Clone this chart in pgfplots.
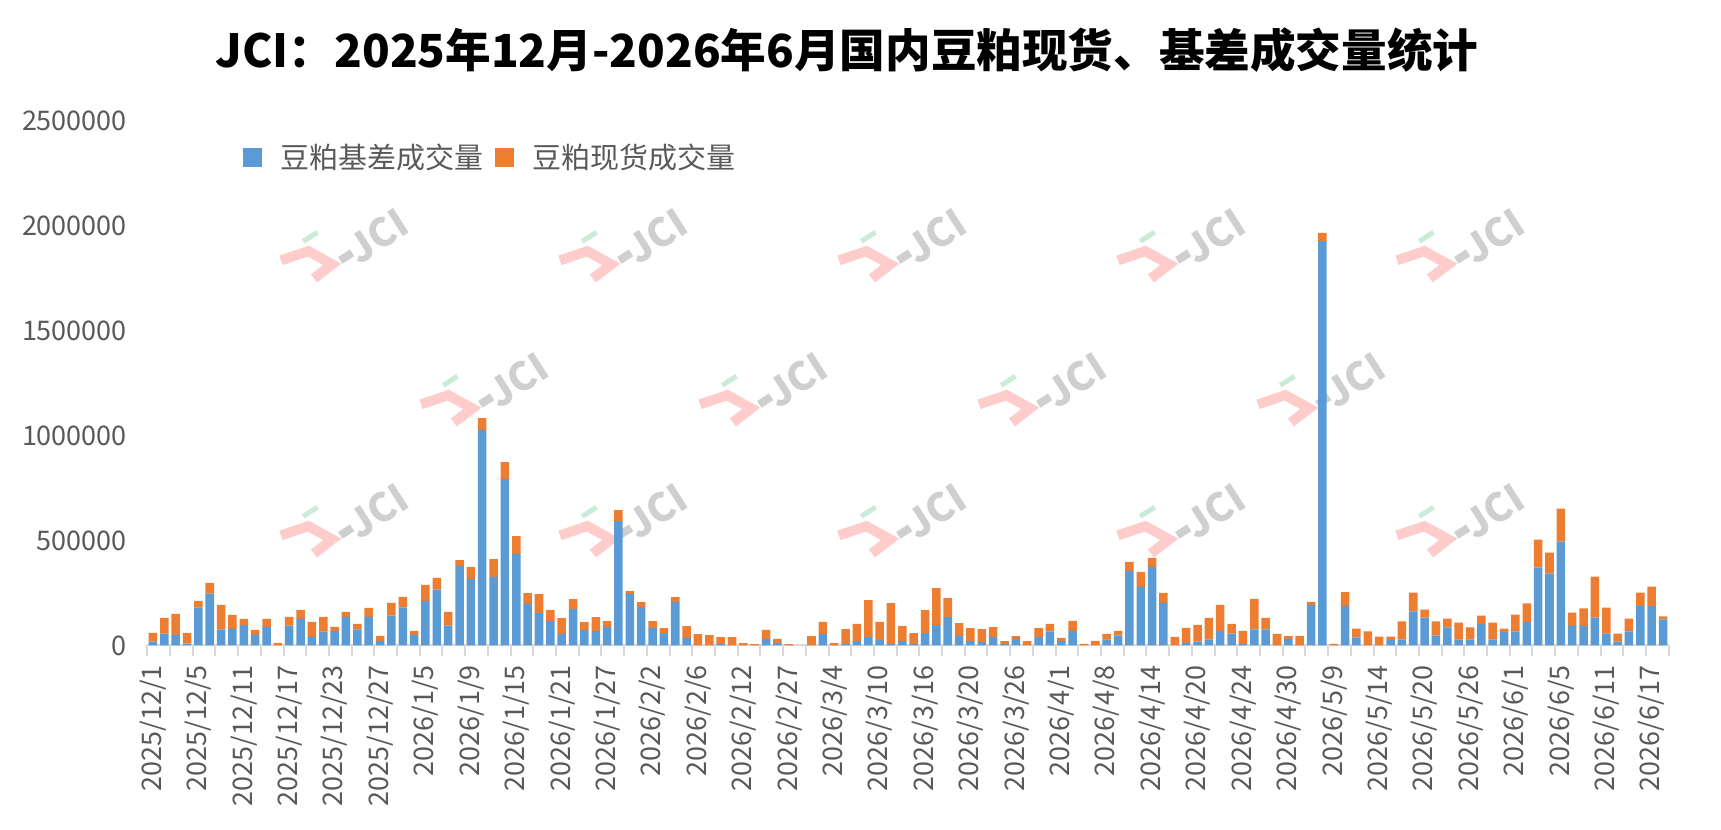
\documentclass[border=0pt]{standalone}
\usepackage{fontspec}
\setmainfont{Noto Sans CJK SC}
\usepackage{pgfplots}
\usepackage{pgfplotstable}
\pgfplotsset{compat=1.18}
\definecolor{sblue}{HTML}{5B9BD5}
\definecolor{sorange}{HTML}{ED7D31}
\definecolor{txtgray}{HTML}{595959}
\definecolor{axgray}{HTML}{D9D9D9}
\definecolor{wmpink}{HTML}{FFCCCC}
\definecolor{wmgreen}{HTML}{C9EBD8}
\definecolor{wmgray}{HTML}{CFCFCF}
\pgfplotsset{sqleg/.style={legend image code/.code={\fill[##1] (0pt,-4.75pt) rectangle (9.5pt,4.75pt);}}}
\newcommand\wm[2]{%
 \begin{scope}[shift={({#1*0.5pt},{(830-#2)*0.5pt})}, rotate=32.6, x=0.5pt, y=0.5pt]
  \draw[wmpink, line width=5pt, line join=miter] (-89,28) -- (-61,21) -- (-48,-3) -- (-71,-5);
  \draw[wmgreen, line width=2.5pt] (-60,32) -- (-43,32);
  \draw[wmgray, line width=4pt] (-39,-4) -- (-25,-4);
  \node[wmgray, font=\bfseries\fontsize{19.5}{20}\selectfont, inner sep=0pt, transform shape] at (6,-4) {JCI};
 \end{scope}}
\pgfplotstableread{
idx B O
0 19000 41300
1 57000 74700
2 50800 100000
3 9500 50800
4 181000 31700
5 247600 50800
6 76200 117400
7 79400 66600
8 98400 28600
9 50800 23800
10 88900 38100
11 0 12700
12 95200 41300
13 127000 42800
14 41300 71400
15 66700 69800
16 69800 19100
17 136500 23800
18 76200 27000
19 136500 42800
20 22200 23800
21 142800 60300
22 181000 50700
23 50800 19000
24 212700 76100
25 266600 55600
26 95200 65100
27 379300 27000
28 315800 57200
29 1026800 55500
30 325300 85700
31 791900 81000
32 436400 84100
33 198400 50800
34 153900 90500
35 115900 52300
36 55500 74600
37 173000 47600
38 74600 36500
39 68200 66700
40 87300 28600
41 592000 52300
42 246000 12700
43 182500 23800
44 84100 31800
45 58700 23800
46 207900 22200
47 36500 55500
48 0 54000
49 0 49200
50 8000 31700
51 0 39700
52 0 11100
53 0 6300
54 30200 44400
55 11100 20600
56 0 6300
57 0 0
58 0 44400
59 55500 57200
60 0 11100
61 8000 69800
62 20600 82600
63 39700 176100
64 27000 85700
65 8000 193500
66 20600 71400
67 8000 50700
68 58700 109500
69 96800 176200
70 134900 90500
71 46000 60300
72 20600 61900
73 17500 60300
74 39700 47600
75 8000 12600
76 30200 14200
77 0 20600
78 39700 42800
79 66700 36500
80 22200 14300
81 69800 47600
82 0 7900
83 0 22200
84 28600 26900
85 47600 22200
86 355500 42800
87 279300 71400
88 374500 42900
89 203100 47600
90 0 41300
91 12700 71400
92 19000 79400
93 28600 103100
94 69800 123800
95 57100 46100
96 7900 61900
97 76200 146000
98 76200 55500
99 0 55500
100 31700 14300
101 0 46000
102 193600 14300
103 1925000 40000
104 0 7900
105 189000 65000
106 38100 42800
107 0 66700
108 0 42800
109 25400 17400
110 28600 85700
111 161900 90400
112 133300 38100
113 47600 66700
114 85700 42800
115 28600 80900
116 28600 57100
117 101600 41200
118 28600 80900
119 63500 17400
120 66700 80900
121 111100 88900
122 371400 133300
123 342800 100000
124 495100 157200
125 92000 65100
126 92000 84200
127 133300 195200
128 57100 123800
129 19000 38100
130 66700 61800
131 187300 65000
132 187300 93600
133 123800 14300
}\data
\begin{document}
\begin{tikzpicture}
\useasboundingbox (0,0) rectangle (860.5pt,415pt);
\wm{371}{236}\wm{650}{236}\wm{929}{236}\wm{1208}{236}\wm{1487}{236}
\wm{511}{380}\wm{790}{380}\wm{1069}{380}\wm{1348}{380}
\wm{371}{511}\wm{650}{511}\wm{929}{511}\wm{1208}{511}\wm{1487}{511}
\node[font=\bfseries\fontsize{22.8}{28}\selectfont, text=black] at (423.5pt,390pt) {JCI：2025年12月-2026年6月国内豆粕现货、基差成交量统计};
\begin{axis}[
 at={(73.65pt,92.25pt)}, anchor=south west,
 width=760.7pt, height=262.5pt, scale only axis,
 xmin=-0.5, xmax=133.5, ymin=0, ymax=2500000,
 ybar stacked, bar width=0.75,
 axis line style={draw=none},
 xtick={0,4,...,132},
 xticklabels={2025/12/1,2025/12/5,2025/12/11,2025/12/17,2025/12/23,2025/12/27,2026/1/5,2026/1/9,2026/1/15,2026/1/21,2026/1/27,2026/2/2,2026/2/6,2026/2/12,2026/2/27,2026/3/4,2026/3/10,2026/3/16,2026/3/20,2026/3/26,2026/4/1,2026/4/8,2026/4/14,2026/4/20,2026/4/24,2026/4/30,2026/5/9,2026/5/14,2026/5/20,2026/5/26,2026/6/1,2026/6/5,2026/6/11,2026/6/17},
 minor xtick={-0.5,1.5,...,133.5},
 major tick length=0pt, minor tick length=5.5pt, tick align=outside,
 tick pos=left,
 minor x tick style={draw=axgray, line width=1pt},
 ytick={0,500000,1000000,1500000,2000000,2500000},
 ytick style={draw=none},
 scaled y ticks=false,
 yticklabel style={/pgf/number format/fixed, /pgf/number format/1000 sep={}, anchor=east, inner sep=0pt},
 /pgf/number format/assume math mode=true,
 tick label style={font=\fontsize{13.5}{16}\selectfont, text=txtgray},
 xticklabel style={rotate=90, anchor=east, inner sep=0pt},
 xticklabel shift=9.75pt,
 yticklabel shift=10pt,
 legend columns=2,
 legend style={at={(0.0629,0.9286)}, anchor=west, draw=none, fill=none, inner sep=0pt, outer sep=0pt,
   font=\fontsize{14.5}{17}\selectfont, text=txtgray, column sep=9.5pt,
   nodes={inner sep=0pt},
   /tikz/every even column/.append style={column sep=5.5pt}},
]
\addplot[fill=sblue, draw=none, sqleg] table[x=idx, y=B] \data;
\addplot[fill=sorange, draw=none, sqleg] table[x=idx, y=O] \data;
\legend{豆粕基差成交量,豆粕现货成交量}
\draw[axgray, line width=1.1pt] (rel axis cs:0,0) -- (rel axis cs:1,0);
\end{axis}
\end{tikzpicture}
\end{document}
